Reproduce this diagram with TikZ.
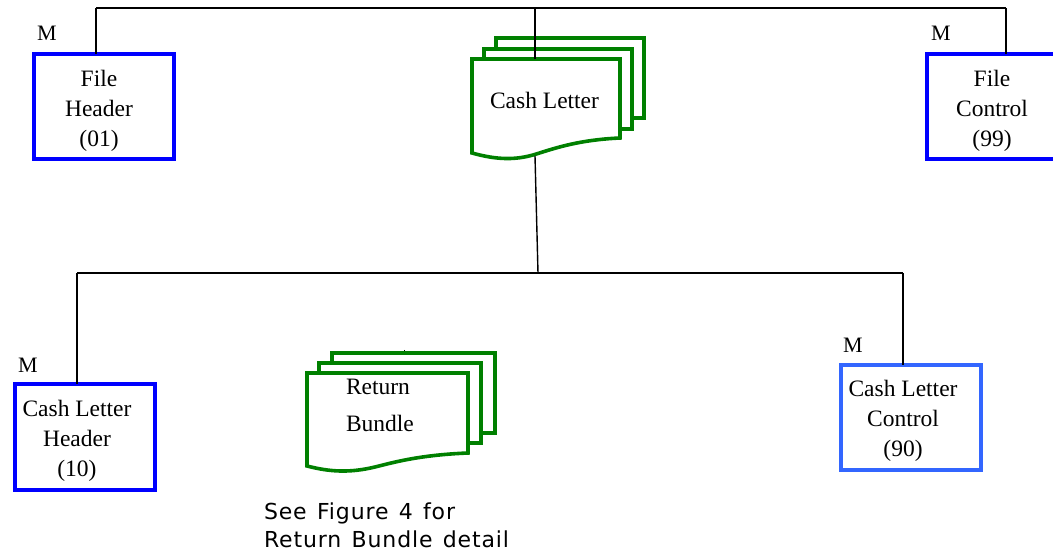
\documentclass[tikz,border=0pt]{standalone}
\usepackage{fontspec}
\setmainfont{Liberation Serif}
\newfontfamily\notefont[LetterSpace=4,WordSpace=1.3]{DejaVu Sans}
\definecolor{recblue}{RGB}{0,0,255}
\definecolor{ctlblue}{RGB}{51,102,255}
\definecolor{docgreen}{RGB}{0,128,0}
\tikzset{
  x=1pt,y=-1pt,
  every node/.style={inner sep=0pt,outer sep=0pt},
  rec/.style={draw=recblue,line width=4pt,fill=white,minimum width=140pt,minimum height=105pt},
  ctl/.style={rec,draw=ctlblue},
  sheet/.style={draw=docgreen,line width=3.6pt,fill=white,line join=miter},
  wire/.style={draw=black,line width=1.4pt},
  lab/.style={font=\fontsize{23.5}{30}\selectfont,align=center,text=black},
  mm/.style={font=\fontsize{22}{24}\selectfont,text=black},
  note/.style={font=\notefont\fontsize{22}{28}\selectfont,align=left,text=black}
}
\newcommand{\sheetback}[4]{\draw[sheet] (#1,#2) -- (#3,#2) -- (#3,#4) -- (#1,#4) -- cycle;}
\begin{document}
\begin{tikzpicture}
\useasboundingbox (0,0) rectangle (1053,553);
\clip (0,0) rectangle (1053,553);
\coordinate (busL) at (96,8);
\coordinate (busC) at (535,8);
\coordinate (busR) at (1006,8);
\coordinate (lowL) at (77,273);
\coordinate (lowC) at (538,273);
\coordinate (lowR) at (903,273);
\coordinate (cashTop) at (535,59);
\coordinate (cashBot) at (535,156);
\coordinate (tickA) at (404,350);
\coordinate (tickB) at (404,353);
\draw[wire] (busL) -- (busR);
\draw[wire] (lowL) -- (lowR);
\draw[line width=.7pt] (tickA) -- (tickB);
\sheetback{496}{38}{644}{118}
\sheetback{484}{49}{632}{129}
\draw[sheet] (472,59) -- (620,59) -- (620,138)
  .. controls (575,140) and (550,150) .. (533,155)
  .. controls (515,160) and (497,160) .. (472,153) -- cycle;
\draw[wire] (busC) -- (cashTop);
\draw[wire] (cashBot) -- (lowC);
\sheetback{332}{353}{495}{433}
\sheetback{319}{363}{481}{443}
\draw[sheet] (307,373) -- (468,373) -- (468,453)
  .. controls (420,455) and (395,462) .. (375,467)
  .. controls (350,473) and (330,472) .. (307,466) -- cycle;
\node[rec] (fh) at (104,106.5) {};
\node[rec] (fc) at (997,107) {};
\node[rec] (ch) at (85,437) {};
\node[ctl] (cc) at (911,417.5) {};
\draw[wire] (busL) -- (fh.north -| busL);
\draw[wire] (busR) -- (fc.north -| busR);
\draw[wire] (lowL) -- (ch.north -| lowL);
\draw[wire] (lowR) -- (cc.north -| lowR);
\node[lab] (fht) at (99,110.5) {File\\Header\\(01)};
\node[lab] (fct) at (992,110.5) {File\\Control\\(99)};
\node[lab] (cht) at (77,440.5) {Cash Letter\\Header\\(10)};
\node[lab] (cct) at (903,421) {Cash Letter\\Control\\(90)};
\node[lab] (cl) at (544.5,100.5) {Cash Letter};
\node[lab,anchor=west] (rb1) at (346,387) {Return};
\node[lab,anchor=west] (rb2) at (346,423) {Bundle};
\node[mm] (m1) at (47,33) {M};
\node[mm] (m2) at (941,33) {M};
\node[mm] (m3) at (28,365) {M};
\node[mm] (m4) at (853,345) {M};
\node[note,anchor=north west] (see) at (264,503) {See Figure 4 for\\Return Bundle detail};
\end{tikzpicture}
\end{document}
